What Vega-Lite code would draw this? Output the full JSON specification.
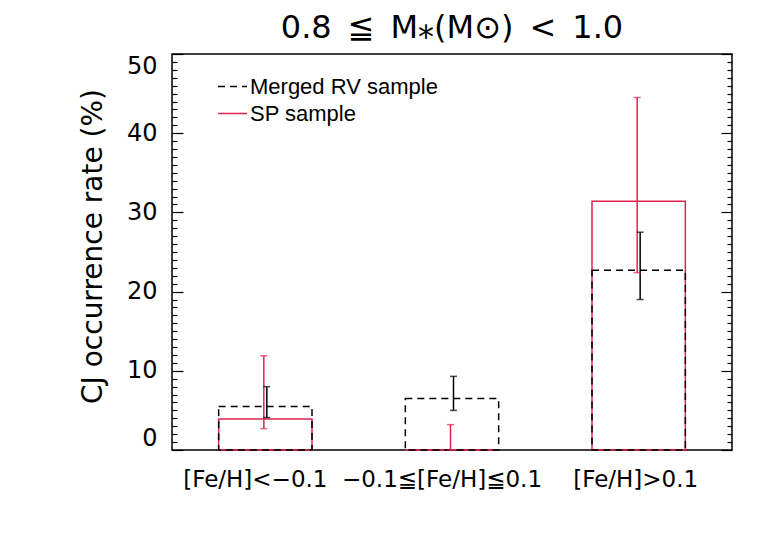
{
  "$schema": "https://vega.github.io/schema/vega-lite/v6.json",
  "autosize": {"type": "none"},
  "padding": {"left": 172, "top": 54, "right": 51, "bottom": 109},
  "width": 560,
  "height": 396,
  "title": {
    "text": "0.8\u2002≦\u2002M⁎(M⊙)\u2002<\u20021.0",
    "font": "DejaVu Sans",
    "fontSize": 32,
    "fontWeight": "normal",
    "color": "black",
    "anchor": "middle",
    "offset": 8
  },
  "data": {
    "values": [
      {"bin": "[Fe/H]<−0.1", "sample": "SP sample", "rate": 3.9, "lo": 2.7, "hi": 11.9},
      {"bin": "−0.1≦[Fe/H]≦0.1", "sample": "SP sample", "rate": 0, "lo": 0, "hi": 3.2},
      {"bin": "[Fe/H]>0.1", "sample": "SP sample", "rate": 31.4, "lo": 22.4, "hi": 44.5},
      {"bin": "[Fe/H]<−0.1", "sample": "Merged RV sample", "rate": 5.5, "lo": 4.1, "hi": 8.0},
      {"bin": "−0.1≦[Fe/H]≦0.1", "sample": "Merged RV sample", "rate": 6.5, "lo": 5.0, "hi": 9.3},
      {"bin": "[Fe/H]>0.1", "sample": "Merged RV sample", "rate": 22.7, "lo": 19.0, "hi": 27.5}
    ]
  },
  "encoding": {
    "x": {
      "field": "bin",
      "type": "nominal",
      "sort": ["[Fe/H]<−0.1", "−0.1≦[Fe/H]≦0.1", "[Fe/H]>0.1"],
      "scale": {"paddingInner": 0.5, "paddingOuter": 0.25},
      "axis": {
        "orient": "bottom",
        "title": null,
        "ticks": false,
        "domain": false,
        "labelAngle": 0,
        "labelFont": "DejaVu Sans",
        "labelFontSize": 23,
        "labelColor": "black",
        "labelPadding": 18,
        "labelLimit": 0,
        "labelOffset": {"condition": {"test": "datum.value === '[Fe/H]>0.1'", "value": -3}, "value": -10}
      }
    }
  },
  "layer": [
    {
      "mark": {"type": "bar", "fill": "transparent", "strokeWidth": 1.5},
      "encoding": {
        "y": {
          "field": "rate",
          "type": "quantitative",
          "stack": null,
          "scale": {"domain": [0, 50], "nice": false},
          "axis": {
            "orient": "left",
            "offset": -11,
            "title": "CJ occurrence rate (%)",
            "titleFont": "DejaVu Sans",
            "titleFontSize": 28,
            "titleFontWeight": "normal",
            "titleColor": "black",
            "titleX": -90,
            "titleY": 192,
            "titleAngle": -90,
            "titleAlign": "center",
            "titleBaseline": "middle",
            "values": [0, 10, 20, 30, 40, 50],
            "labelFlush": true,
            "labelOverlap": false,
            "labelFont": "DejaVu Sans",
            "labelFontSize": 24,
            "labelColor": "black",
            "labelPadding": 15,
            "domain": false,
            "grid": false,
            "tickColor": "black",
            "tickWidth": 1.2,
            "tickSize": 11
          }
        },
        "stroke": {
          "field": "sample",
          "type": "nominal",
          "scale": {"domain": ["Merged RV sample", "SP sample"], "range": ["black", "#e0234e"]},
          "legend": {
            "title": null,
            "orient": "none",
            "legendX": 45,
            "legendY": 17,
            "symbolType": "stroke",
            "symbolSize": 841,
            "symbolStrokeWidth": 1.5,
            "labelFont": "Liberation Sans",
            "labelFontSize": 22,
            "labelOffset": 2,
            "labelLimit": 0,
            "rowPadding": 0,
            "encode": {"labels": {"update": {"fill": {"signal": "datum.value === 'SP sample' ? '#e0234e' : 'black'"}}}}
          }
        },
        "strokeDash": {
          "field": "sample",
          "type": "nominal",
          "scale": {"domain": ["Merged RV sample", "SP sample"], "range": [[7, 5], [1, 0]]},
          "legend": {
            "title": null,
            "orient": "none",
            "legendX": 45,
            "legendY": 17,
            "symbolType": "stroke",
            "symbolSize": 841,
            "symbolStrokeWidth": 1.5,
            "labelFont": "Liberation Sans",
            "labelFontSize": 22,
            "labelOffset": 2,
            "labelLimit": 0,
            "rowPadding": 0,
            "encode": {"labels": {"update": {"fill": {"signal": "datum.value === 'SP sample' ? '#e0234e' : 'black'"}}}}
          }
        }
      }
    },
    {
      "mark": {"type": "rule", "strokeWidth": 1.5, "xOffset": {"expr": "datum.sample === 'SP sample' ? -1.5 : 1.5"}},
      "encoding": {
        "y": {
          "field": "lo",
          "type": "quantitative",
          "axis": {
            "orient": "left",
            "offset": -5,
            "title": null,
            "labels": false,
            "domain": false,
            "grid": false,
            "values": [1,2,3,4,5,6,7,8,9,11,12,13,14,15,16,17,18,19,21,22,23,24,25,26,27,28,29,31,32,33,34,35,36,37,38,39,41,42,43,44,45,46,47,48,49],
            "tickColor": "black",
            "tickWidth": 1.2,
            "tickSize": 5
          }
        },
        "y2": {"field": "hi"},
        "stroke": {"condition": {"test": "datum.sample === 'SP sample'", "value": "#e0234e"}, "value": "black"}
      }
    },
    {
      "mark": {"type": "tick", "size": 7, "thickness": 1.5, "orient": "horizontal", "xOffset": {"expr": "datum.sample === 'SP sample' ? -1.5 : 1.5"}},
      "encoding": {
        "y": {
          "field": "lo",
          "type": "quantitative",
          "axis": {
            "orient": "right",
            "offset": -11,
            "title": null,
            "labels": false,
            "domain": false,
            "grid": false,
            "values": [0, 10, 20, 30, 40, 50],
            "tickColor": "black",
            "tickWidth": 1.2,
            "tickSize": 11
          }
        },
        "color": {"condition": {"test": "datum.sample === 'SP sample'", "value": "#e0234e"}, "value": "black"}
      }
    },
    {
      "mark": {"type": "tick", "size": 7, "thickness": 1.5, "orient": "horizontal", "xOffset": {"expr": "datum.sample === 'SP sample' ? -1.5 : 1.5"}},
      "encoding": {
        "y": {
          "field": "hi",
          "type": "quantitative",
          "axis": {
            "orient": "right",
            "offset": -5,
            "title": null,
            "labels": false,
            "domain": false,
            "grid": false,
            "values": [1,2,3,4,5,6,7,8,9,11,12,13,14,15,16,17,18,19,21,22,23,24,25,26,27,28,29,31,32,33,34,35,36,37,38,39,41,42,43,44,45,46,47,48,49],
            "tickColor": "black",
            "tickWidth": 1.2,
            "tickSize": 5
          }
        },
        "color": {"condition": {"test": "datum.sample === 'SP sample'", "value": "#e0234e"}, "value": "black"}
      }
    }
  ],
  "resolve": {"axis": {"y": "independent"}},
  "config": {
    "view": {"stroke": "black", "strokeWidth": 1.5},
    "background": "white"
  }
}
